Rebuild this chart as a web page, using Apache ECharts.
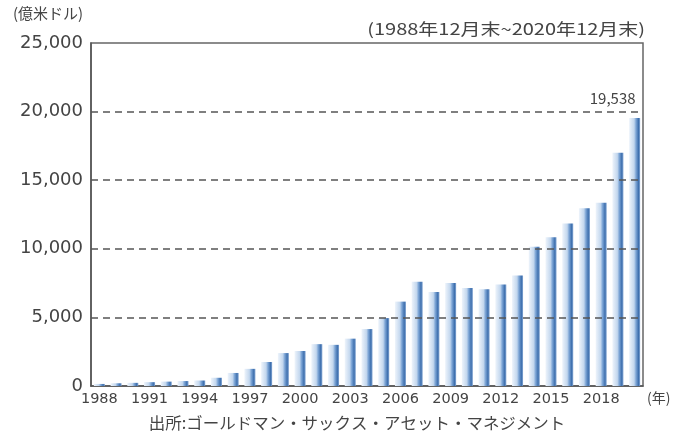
<!DOCTYPE html>
<html><head><meta charset="utf-8">
<script src="https://cdn.jsdelivr.net/npm/echarts@6/dist/echarts.min.js"></script>
<style>html,body{margin:0;padding:0;background:#fff}#c{width:675px;height:444px}</style>
</head><body><div id="c"></div>
<script>
const years = ["1988","1989","1990","1991","1992","1993","1994","1995","1996","1997","1998","1999","2000","2001","2002","2003","2004","2005","2006","2007","2008","2009","2010","2011","2012","2013","2014","2015","2016","2017","2018","2019","2020"];
const values = [150,200,230,280,320,360,400,600,950,1250,1750,2400,2550,3050,3000,3450,4150,4950,6150,7600,6850,7500,7150,7050,7400,8050,10150,10850,11850,12950,13350,17000,19538];
const gridLines = [5000,10000,15000,20000];
const yMax = 25000, yStep = 5000;
const unitText = "(億米ドル)";
const periodText = "(1988年12月末~2020年12月末)";
const sourceText = "出所:ゴールドマン・サックス・アセット・マネジメント";
const yearUnit = "(年)";

const font = '"Noto Sans CJK JP","Noto Sans",sans-serif';
const numFont = '"DejaVu Sans","Noto Sans CJK JP",sans-serif';
const txt = '#444';
const chart = echarts.init(document.getElementById('c'), null, {renderer:'canvas'});
const barColor = new echarts.graphic.LinearGradient(0,0,1,0,[
  {offset:0,color:'#eef4fb'},{offset:0.45,color:'#c3d7ee'},{offset:0.62,color:'#7ea6d6'},{offset:0.85,color:'#3f70ae'},{offset:1,color:'#86a8d4'}]);
const last = values.length-1;
chart.setOption({
  animation:false,
  graphic:[
    {type:'text',left:13,top:6,style:{text:unitText,font:'15px '+font,fill:txt}},
    {type:'text',x:645,y:21,scaleX:1.25,style:{text:periodText,font:'16px '+font,fill:txt,textAlign:'right'}},
    {type:'text',x:357,y:415,scaleX:1.03,style:{text:sourceText,font:'16px '+font,fill:txt,textAlign:'center'}},
    {type:'text',x:647,y:391,style:{text:yearUnit,font:'14px '+font,fill:txt}}
  ],
  grid:{left:91,right:32,top:43,bottom:58,show:true,borderColor:'#666',borderWidth:1.5,backgroundColor:'transparent'},
  xAxis:{type:'category',data:years,
    axisLine:{lineStyle:{color:'#555',width:1.5}},axisTick:{show:false},
    axisLabel:{interval:2,color:txt,fontFamily:numFont,fontSize:14.5,margin:6}},
  yAxis:{type:'value',min:0,max:yMax,interval:yStep,
    axisLine:{show:true,lineStyle:{color:'#555',width:1.5}},axisTick:{show:false},
    splitLine:{show:false},
    axisLabel:{color:txt,fontFamily:numFont,fontSize:18,margin:8,
      formatter:v=>v.toLocaleString('en-US')}},
  series:[{
    type:'bar',data:values.map((v,i)=>i===last?{value:v,label:{show:true,position:'top',offset:[-22,-7],
      formatter:p=>p.value.toLocaleString('en-US'),color:txt,fontFamily:font,fontSize:15}}:v),
    barWidth:11,
    itemStyle:{color:barColor},
    markLine:{silent:true,symbol:'none',label:{show:false},z:10,
      lineStyle:{color:'#555',type:[7,5],width:1.5},
      data:gridLines.map(g=>({yAxis:g}))}
  }]
});
</script></body></html>
